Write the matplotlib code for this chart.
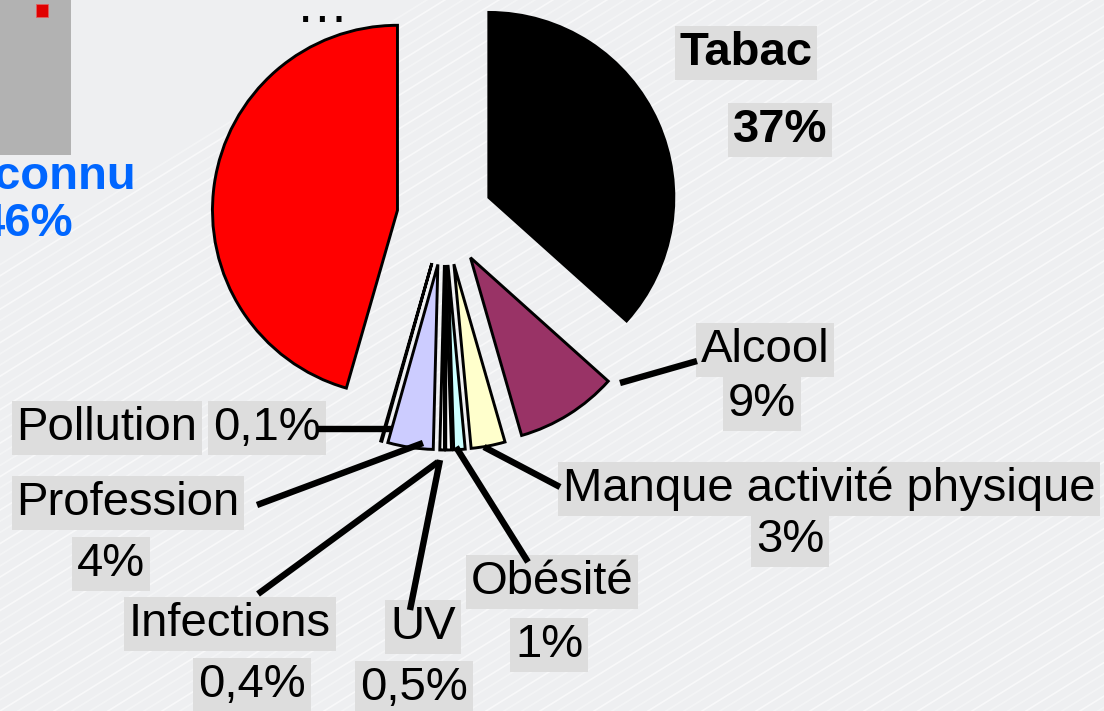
import numpy as np
import matplotlib
matplotlib.use('Agg')
import matplotlib.pyplot as plt
import matplotlib.patches as mpatches

# ===== DATA =====
causes = ['Tabac', 'Alcool', 'Manque activité physique', 'Obésité', 'UV',
          'Infections', 'Profession', 'Pollution', 'Inconnu']
values = [37, 9, 3, 1, 0.5, 0.4, 4, 0.1, 46]
pct_labels = ['37%', '9%', '3%', '1%', '0,5%', '0,4%', '4%', '0,1%', '46%']
colors = ['#000000', '#993366', '#FFFFCC', '#CCFFFF', '#FFFFFF',
          '#FFFFFF', '#CCCCFF', '#FFFFFF', '#FF0000']
# ===== DATA =====

W, H = 1104, 711


def Y(y):
    # picture rows run downward, axes run upward
    return H - y


plt.rcParams['font.family'] = ['Liberation Sans', 'DejaVu Sans']
fig = plt.figure(figsize=(W / 100, H / 100), dpi=100)
fig.patch.set_facecolor('#EEEFF1')
ax = fig.add_axes([0, 0, 1, 1])

# faint diagonal streaks of the slide background
for k in range(-40, 90):
    x0 = k * 18.0
    ax.plot([x0, x0 + 1300], [0, 1300 * 0.62], color='white',
            lw=1.2, alpha=0.35 if k % 3 else 0.6, zorder=0)

radius = 185
ax.pie(values, colors=colors, startangle=90, counterclock=False,
       radius=radius, center=(445, Y(217)), explode=[48] * len(values),
       wedgeprops=dict(edgecolor='black', linewidth=2.1), normalize=True)

# label layout (picture coords): name centre, percent centre, leader line
box = dict(boxstyle='square,pad=0.1', fc='#DDDDDD', ec='none')
fs = 34
layout = {
    'Alcool': ((765, 350), (762, 404), [(620, 383), (697, 361)]),
    'Manque activité physique': ((829, 489), (790, 540), [(484, 447), (560, 487)]),
    'Obésité': ((552, 582), (549, 645), [(456, 447), (528, 562)]),
    'UV': ((423, 627), (414, 688), [(440, 460), (410, 610)]),
    'Infections': ((230, 624), (252, 685), [(438, 462), (258, 594)]),
    'Profession': ((128, 503), (111, 564), [(423, 443), (257, 505)]),
}
for name, pct in zip(causes, pct_labels):
    if name in layout:
        (nx, ny), (px, py), line = layout[name]
        ax.text(nx, Y(ny), name, fontsize=fs, ha='center', va='center', bbox=box)
        ax.text(px, Y(py), pct, fontsize=fs, ha='center', va='center', bbox=box)
        ax.plot([p[0] for p in line], [Y(p[1]) for p in line], color='black',
                lw=4.6, solid_capstyle='butt', zorder=3)

# Pollution: name and value on one row
ax.text(107, Y(428), causes[7], fontsize=fs, ha='center', va='center', bbox=box)
ax.text(267, Y(428), pct_labels[7], fontsize=fs, ha='center', va='center', bbox=box)
ax.plot([318, 392], [Y(429), Y(429)], color='black', lw=4.6, solid_capstyle='butt', zorder=3)

# Tabac in bold
ax.text(746, Y(53), causes[0], fontsize=fs, fontweight='bold', ha='center', va='center', bbox=box)
ax.text(780, Y(130), pct_labels[0], fontsize=fs, fontweight='bold', ha='center', va='center', bbox=box)

# Inconnu, cut by the left edge
ax.text(136, Y(177), causes[8], fontsize=fs, fontweight='bold', color='#0066FF', ha='right', va='center')
ax.text(73, Y(224), pct_labels[8], fontsize=fs, fontweight='bold', color='#0066FF', ha='right', va='center')

# cropped legend box at top left and ellipsis
ax.add_patch(mpatches.Rectangle((0, Y(155)), 71, 155, fc='#B2B2B2', ec='none', zorder=2))
ax.add_patch(mpatches.Rectangle((36, Y(17)), 12, 13, fc='#E00000', ec='#E06060', lw=0.6, zorder=3))
ax.text(322, Y(22), '…', fontsize=38, ha='center', va='baseline')

ax.set_xlim(0, W)
ax.set_ylim(0, H)
ax.set_aspect('equal')
ax.axis('off')

fig.savefig('out.png', dpi=100, facecolor=fig.get_facecolor())
